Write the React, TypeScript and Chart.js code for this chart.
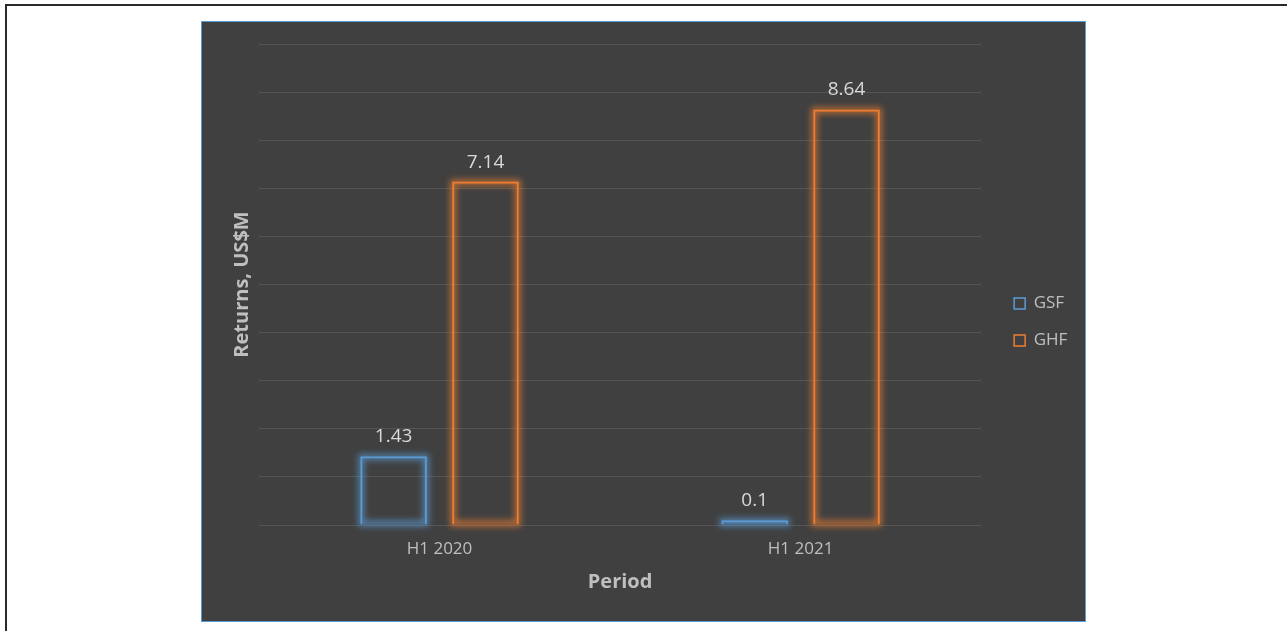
import React, { useEffect, useRef } from 'react';
import { Chart, registerables } from 'chart.js';

Chart.register(...registerables);

const categories = ['H1 2020', 'H1 2021'];
const seriesNames = ['GSF', 'GHF'];
const gsfValues = [1.43, 0.1];
const ghfValues = [7.14, 8.64];
const seriesColors = ['#5b9bd5', '#ed7d31'];
const glowColors = ['rgba(91,155,213,0.7)', 'rgba(237,125,49,0.7)'];
const yAxisTitle = 'Returns, US$M';
const xAxisTitle = 'Period';
const yMin = 0;
const yMax = 10;
const yStep = 1;

const FONT = "'Open Sans', sans-serif";
const TEXT = '#bfbfbf';
const LABEL = '#d9d9d9';

const glowPlugin = {
  id: 'barGlow',
  beforeDatasetsDraw(chart: any) {
    const ctx = chart.ctx;
    chart.data.datasets.forEach((ds: any, i: number) => {
      const meta = chart.getDatasetMeta(i);
      meta.data.forEach((bar: any) => {
        const { x, y, base, width } = bar.getProps(['x', 'y', 'base', 'width'], true);
        const top = Math.min(y, base);
        const h = Math.abs(base - y);
        ctx.save();
        ctx.filter = 'blur(3px)';
        ctx.strokeStyle = ds.glowColor;
        ctx.lineWidth = 6;
        ctx.strokeRect(x - width / 2 + 1, top + 1, width - 2, Math.max(h - 2, 0.5));
        ctx.restore();
      });
    });
  },
};

const labelPlugin = {
  id: 'barLabels',
  afterDatasetsDraw(chart: any) {
    const ctx = chart.ctx;
    ctx.save();
    ctx.font = `19px ${FONT}`;
    ctx.fillStyle = LABEL;
    ctx.textAlign = 'center';
    ctx.textBaseline = 'alphabetic';
    chart.data.datasets.forEach((ds: any, i: number) => {
      const meta = chart.getDatasetMeta(i);
      meta.data.forEach((bar: any, j: number) => {
        const { x, y } = bar.getProps(['x', 'y'], true);
        ctx.fillText(String(ds.data[j]), x, y - 14);
      });
    });
    ctx.restore();
  },
};

export default function App() {
  const ref = useRef<HTMLCanvasElement>(null);

  useEffect(() => {
    Chart.defaults.font.family = FONT;
    const chart = new Chart(ref.current as HTMLCanvasElement, {
      type: 'bar',
      data: {
        labels: categories,
        datasets: [
          {
            label: seriesNames[0],
            data: gsfValues,
            backgroundColor: 'rgba(0,0,0,0)',
            borderColor: seriesColors[0],
            borderWidth: 2,
            glowColor: glowColors[0],
          } as any,
          {
            label: seriesNames[1],
            data: ghfValues,
            backgroundColor: 'rgba(0,0,0,0)',
            borderColor: seriesColors[1],
            borderWidth: 2,
            glowColor: glowColors[1],
          } as any,
        ],
      },
      options: {
        responsive: false,
        maintainAspectRatio: false,
        animation: false,
        events: [],
        datasets: {
          bar: { categoryPercentage: 0.509, barPercentage: 0.725 },
        },
        layout: { padding: { top: 22, left: 28.5, right: 7.7, bottom: 21 } },
        scales: {
          x: {
            grid: { display: false, drawTicks: false },
            border: { display: false },
            ticks: { color: TEXT, font: { family: FONT, size: 17 }, padding: 13.8 },
            title: {
              display: true,
              text: xAxisTitle,
              color: TEXT,
              font: { family: FONT, size: 20, weight: 'bold' },
              padding: { top: -2.5, bottom: 5.5 },
            },
          },
          y: {
            min: yMin,
            max: yMax,
            ticks: { display: false, stepSize: yStep },
            grid: { color: '#555555', lineWidth: 1, drawTicks: false },
            border: { display: false },
            title: {
              display: true,
              text: yAxisTitle,
              color: TEXT,
              font: { family: FONT, size: 20, weight: 'bold' },
              padding: { top: 0, bottom: 4.5 },
            },
          },
          yR: {
            type: 'linear',
            position: 'right',
            display: true,
            grid: { display: false, drawTicks: false },
            border: { display: false },
            ticks: { display: false },
            afterFit: (s: any) => {
              s.width = 13;
            },
          },
        } as any,
        plugins: {
          tooltip: { enabled: false },
          legend: {
            position: 'right',
            align: 'center',
            labels: {
              boxWidth: 11,
              boxHeight: 11,
              padding: 20,
              color: TEXT,
              font: { family: FONT, size: 17 },
              generateLabels: (c: any) =>
                (Chart.defaults.plugins.legend.labels.generateLabels as any)(c).map((l: any) => ({
                  ...l,
                  lineWidth: 1.5,
                  fillStyle: 'rgba(0,0,0,0)',
                })),
            },
          },
        },
      },
      plugins: [glowPlugin, labelPlugin],
    } as any);
    return () => chart.destroy();
  }, []);

  return (
    <div
      style={{
        position: 'fixed',
        left: 0,
        top: 0,
        width: 1287,
        height: 631,
        background: '#ffffff',
        overflow: 'hidden',
      }}
    >
      <div
        style={{
          position: 'absolute',
          left: 5,
          top: 4,
          width: 1400,
          height: 700,
          borderTop: '2px solid #2a2a2a',
          borderLeft: '2px solid #2a2a2a',
        }}
      />
      <div
        style={{
          position: 'absolute',
          left: 201,
          top: 21,
          width: 885,
          height: 601,
          boxSizing: 'border-box',
          border: '1px solid #5b9bd5',
          background: '#404040',
        }}
      >
        <canvas ref={ref} width={883} height={599} style={{ display: 'block', width: 883, height: 599 }} />
      </div>
    </div>
  );
}
